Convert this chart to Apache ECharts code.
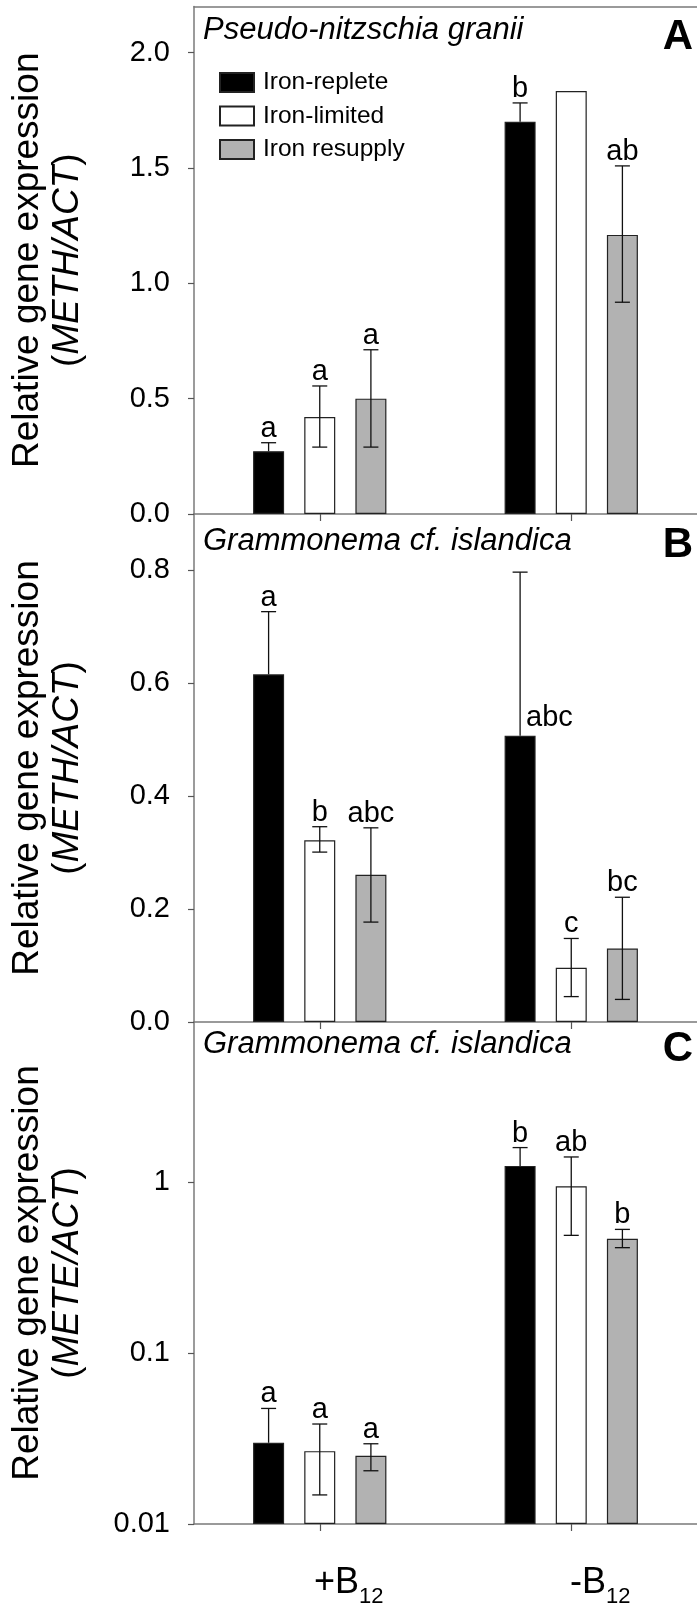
<!DOCTYPE html>
<html>
<head>
<meta charset="utf-8">
<script src="https://cdn.jsdelivr.net/npm/echarts@6/dist/echarts.min.js"></script>
<style>
html,body{margin:0;padding:0;background:#fff;}
#chart{width:697px;height:1608px;}
</style>
</head>
<body>
<div id="chart"></div>
<script>
// ---------------- DATA ----------------
const categories = ['+B12', '-B12'];
const conditions = ['Iron-replete', 'Iron-limited', 'Iron resupply'];

// Panel A: Pseudo-nitzschia granii, METH/ACT
const aTicks = [0, 0.5, 1.0, 1.5, 2.0];
const aReplete = [0.272, 1.700];
const aLimited = [0.420, 1.834];
const aResupply = [0.500, 1.210];
const aRepleteHi = [0.309, 1.782];
const aRepleteLo = [null, null];
const aLimitedHi = [0.555, null];
const aLimitedLo = [0.290, null];
const aResupplyHi = [0.712, 1.509];
const aResupplyLo = [0.290, 0.918];
const aRepleteSig = ['a', 'b'];
const aLimitedSig = ['a', ''];
const aResupplySig = ['a', 'ab'];

// Panel B: Grammonema cf. islandica, METH/ACT
const bTicks = [0, 0.2, 0.4, 0.6, 0.8];
const bReplete = [0.616, 0.507];
const bLimited = [0.322, 0.096];
const bResupply = [0.261, 0.130];
const bRepleteHi = [0.727, 0.797];
const bRepleteLo = [null, null];
const bLimitedHi = [0.346, 0.148];
const bLimitedLo = [0.301, 0.045];
const bResupplyHi = [0.344, 0.221];
const bResupplyLo = [0.177, 0.040];
const bRepleteSig = ['a', 'abc'];
const bLimitedSig = ['b', 'c'];
const bResupplySig = ['abc', 'bc'];

// Panel C: Grammonema cf. islandica, METE/ACT (log scale)
const cTicks = [0.01, 0.1, 1];
const cReplete = [0.0299, 1.25];
const cLimited = [0.0267, 0.95];
const cResupply = [0.0251, 0.468];
const cRepleteHi = [0.0475, 1.60];
const cRepleteLo = [null, null];
const cLimitedHi = [0.0385, 1.41];
const cLimitedLo = [0.0148, 0.49];
const cResupplyHi = [0.0295, 0.531];
const cResupplyLo = [0.0205, 0.415];
const cRepleteSig = ['a', 'b'];
const cLimitedSig = ['a', 'ab'];
const cResupplySig = ['a', 'b'];

// ---------------- STYLE / LAYOUT ----------------
const FONT = '"Liberation Sans", Arial, Helvetica, sans-serif';
const FILLS = ['#000000', '#ffffff', '#b2b2b2'];
const AXIS_COLOR = '#7a7a7a';
const BAR_W = 31;
const BAR_GAP = 0.65;
const BAR_STEP = BAR_W * (1 + BAR_GAP);
const CAP = 7.5;
const PLOT_LEFT = 193;
const PLOT_WIDTH = 508;
const SIG_SIZE = 29;

const panels = [
  {
    letter: 'A', title: 'Pseudo-nitzschia granii', gene: 'METH/ACT',
    top: 6.5, bottom: 514, titleY: 30, letterY: 37.5,
    axisType: 'value', min: 0, max: 2.2, ticks: aTicks, digits: 1,
    values: [aReplete, aLimited, aResupply],
    hi: [aRepleteHi, aLimitedHi, aResupplyHi],
    lo: [aRepleteLo, aLimitedLo, aResupplyLo],
    sig: [aRepleteSig, aLimitedSig, aResupplySig],
    sideSig: null
  },
  {
    letter: 'B', title: 'Grammonema cf. islandica', gene: 'METH/ACT',
    top: 514, bottom: 1022, titleY: 541, letterY: 545.5,
    axisType: 'value', min: 0, max: 0.9, ticks: bTicks, digits: 1,
    values: [bReplete, bLimited, bResupply],
    hi: [bRepleteHi, bLimitedHi, bResupplyHi],
    lo: [bRepleteLo, bLimitedLo, bResupplyLo],
    sig: [bRepleteSig, bLimitedSig, bResupplySig],
    sideSig: [0, 1]
  },
  {
    letter: 'C', title: 'Grammonema cf. islandica', gene: 'METE/ACT',
    top: 1022, bottom: 1525.7, titleY: 1044, letterY: 1049,
    axisType: 'log', min: 0.01, max: 8.7, ticks: cTicks, digits: null,
    values: [cReplete, cLimited, cResupply],
    hi: [cRepleteHi, cLimitedHi, cResupplyHi],
    lo: [cRepleteLo, cLimitedLo, cResupplyLo],
    sig: [cRepleteSig, cLimitedSig, cResupplySig],
    sideSig: null
  }
];

function makeRender(p) {
  return function (params, api) {
    const cat = api.value(0);
    const k = api.value(1);
    const val = p.values[k][cat];
    const hi = p.hi[k][cat];
    const lo = p.lo[k][cat];
    const sig = p.sig[k][cat];
    const base = api.coord([cat, val]);
    const cx = base[0] + (k - 1) * BAR_STEP;
    const yBar = base[1];
    const ls = { stroke: '#111', lineWidth: 1.3 };
    const children = [];
    let yTop = yBar;
    if (hi != null) {
      const yHi = api.coord([cat, hi])[1];
      const yLo = api.coord([cat, lo != null ? lo : val])[1];
      yTop = yHi;
      children.push({ type: 'line', shape: { x1: cx, y1: yHi, x2: cx, y2: yLo }, style: ls });
      children.push({ type: 'line', shape: { x1: cx - CAP, y1: yHi, x2: cx + CAP, y2: yHi }, style: ls });
      if (lo != null) {
        children.push({ type: 'line', shape: { x1: cx - CAP, y1: yLo, x2: cx + CAP, y2: yLo }, style: ls });
      }
    }
    if (sig) {
      const side = p.sideSig && p.sideSig[0] === k && p.sideSig[1] === cat;
      children.push({
        type: 'text',
        style: side ? {
          text: sig, x: cx + 6, y: yBar - 18,
          fill: '#000', fontSize: SIG_SIZE, fontFamily: FONT, align: 'left', verticalAlign: 'middle'
        } : {
          text: sig, x: cx, y: yTop - 14,
          fill: '#000', fontSize: SIG_SIZE, fontFamily: FONT, align: 'center', verticalAlign: 'middle'
        }
      });
    }
    return { type: 'group', children: children };
  };
}

const grid = [], xAxis = [], yAxis = [], series = [], graphic = [];

panels.forEach(function (p, i) {
  grid.push({ left: PLOT_LEFT, width: PLOT_WIDTH, top: p.top, height: p.bottom - p.top, containLabel: false });

  const isLast = i === panels.length - 1;
  xAxis.push({
    type: 'category', gridIndex: i, data: categories, boundaryGap: true,
    axisLine: { show: true, onZero: false, lineStyle: { color: AXIS_COLOR, width: 1.5 } },
    axisTick: { show: true, alignWithLabel: true, length: 7, lineStyle: { color: '#555', width: 1.2 } },
    axisLabel: isLast ? {
      show: true, margin: 34, align: 'center', padding: [0, 0, 0, 58],
      formatter: function (v) {
        const m = v.match(/^(.*?)(\d+)$/);
        return '{m|' + m[1] + '}{s|' + m[2] + '}';
      },
      rich: {
        m: { fontSize: 36, fontFamily: FONT, color: '#000', lineHeight: 50 },
        s: { fontSize: 22, fontFamily: FONT, color: '#000', lineHeight: 22, verticalAlign: 'bottom' }
      }
    } : { show: false },
    splitLine: { show: false }
  });

  const yAx = {
    type: p.axisType, gridIndex: i, min: p.min, max: p.max,
    axisLine: { show: true, onZero: false, lineStyle: { color: AXIS_COLOR, width: 1.5 } },
    axisTick: { show: true, inside: false, length: 6, customValues: p.ticks, lineStyle: { color: '#555', width: 1.2 } },
    axisLabel: {
      show: true, margin: 24, customValues: p.ticks, color: '#000', fontSize: 29, fontFamily: FONT,
      formatter: p.digits != null ? function (v) { return Number(v).toFixed(p.digits); } : function (v) { return String(+Number(v).toPrecision(6)); }
    },
    splitLine: { show: false },
    name: '{t|Relative gene expression}\n{t|(}{i|' + p.gene + '}{t|)}',
    nameLocation: 'middle', nameRotate: 90, nameGap: 106,
    nameTextStyle: {
      fontSize: 37, fontFamily: FONT, color: '#000', lineHeight: 40,
      rich: {
        t: { fontSize: 37, fontFamily: FONT, color: '#000', lineHeight: 40 },
        i: { fontSize: 37, fontFamily: FONT, color: '#000', lineHeight: 40, fontStyle: 'italic' }
      }
    }
  };
  if (p.axisType === 'log') { yAx.logBase = 10; yAx.startValue = p.min; }
  yAxis.push(yAx);

  conditions.forEach(function (name, k) {
    series.push({
      type: 'bar', name: name, xAxisIndex: i, yAxisIndex: i,
      data: p.values[k], barWidth: BAR_W, barGap: (BAR_GAP * 100) + '%',
      itemStyle: { color: FILLS[k], borderColor: '#222', borderWidth: 1.2 },
      silent: true, animation: false
    });
  });

  const items = [];
  categories.forEach(function (c, cat) {
    conditions.forEach(function (n, k) { items.push([cat, k, p.values[k][cat]]); });
  });
  series.push({
    type: 'custom', xAxisIndex: i, yAxisIndex: i, z: 10, silent: true, animation: false,
    encode: { x: 0, y: 2 }, data: items, renderItem: makeRender(p)
  });

  graphic.push({
    type: 'text', x: 203, y: p.titleY,
    style: { text: p.title, fill: '#000', fontSize: 31, fontStyle: 'italic', fontFamily: FONT, align: 'left', verticalAlign: 'middle' }
  });
  graphic.push({
    type: 'text', x: 693, y: p.letterY,
    style: { text: p.letter, fill: '#000', fontSize: 42, fontWeight: 'bold', fontFamily: FONT, align: 'right', verticalAlign: 'middle' }
  });
});

// top frame line of panel A
xAxis.push({
  type: 'category', gridIndex: 0, data: categories, position: 'top',
  axisLine: { show: true, onZero: false, lineStyle: { color: AXIS_COLOR, width: 1.5 } },
  axisTick: { show: false }, axisLabel: { show: false }, splitLine: { show: false }
});

const chart = echarts.init(document.getElementById('chart'), null, { renderer: 'canvas' });
chart.setOption({
  backgroundColor: '#ffffff',
  animation: false,
  grid: grid,
  xAxis: xAxis,
  yAxis: yAxis,
  legend: {
    data: conditions, orient: 'vertical', left: 214, top: 65,
    itemWidth: 34, itemHeight: 19, itemGap: 8.5, icon: 'rect', selectedMode: false,
    textStyle: { fontSize: 24.5, fontFamily: FONT, color: '#000', lineHeight: 24, padding: [0, 0, 0, 4] }
  },
  graphic: graphic,
  series: series
});
</script>
</body>
</html>
